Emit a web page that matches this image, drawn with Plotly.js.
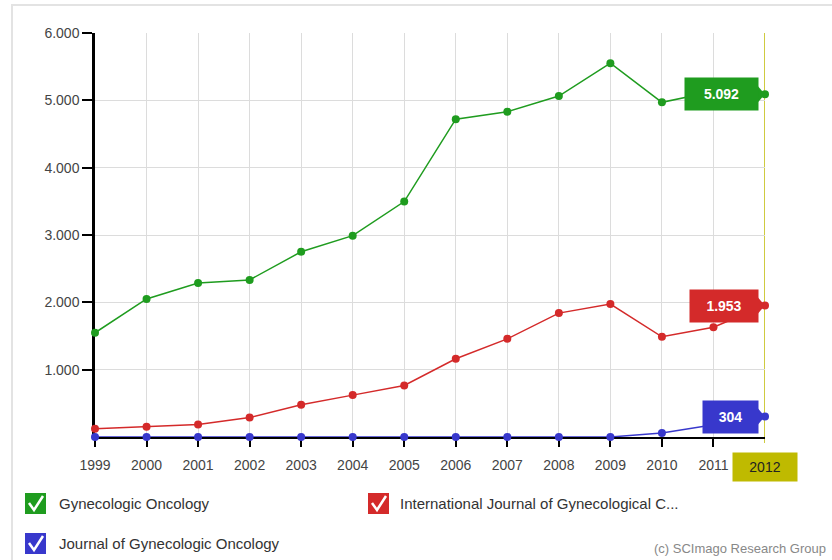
<!DOCTYPE html>
<html>
<head>
<meta charset="utf-8">
<script src="https://cdn.plot.ly/plotly-3.0.1.min.js"></script>
<style>
  html, body { margin: 0; padding: 0; background: #fff; }
  #chart { width: 832px; height: 560px; }
</style>
</head>
<body>
<div id="chart"></div>
<script>
// ---- data ----
const years = [1999, 2000, 2001, 2002, 2003, 2004, 2005, 2006, 2007, 2008, 2009, 2010, 2011, 2012];
const gynecologicOncology = [1548, 2050, 2288, 2333, 2751, 2990, 3497, 4720, 4830, 5064, 5552, 4970, 5130, 5092];
const intJournalGynCancer = [124, 154, 184, 288, 478, 622, 766, 1162, 1458, 1840, 1975, 1488, 1630, 1953];
const journalGynOncology = [0, 0, 0, 0, 0, 0, 0, 0, 0, 0, 0, 60, 180, 304];
const seriesNames = ["Gynecologic Oncology", "International Journal of Gynecological C...", "Journal of Gynecologic Oncology"];
const yTickVals = [1000, 2000, 3000, 4000, 5000, 6000];
const highlightYear = 2012;
const creditText = "(c) SCImago Research Group";

// ---- styling ----
const colors = ["#1f9c1f", "#d42a2a", "#3838cc"];
const olive = "#bfba00";
const FONT = "Liberation Sans, Arial, sans-serif";

const L = 95, R = 67, T = 33, B = 123, W = 832, H = 560;
const PW = W - L - R, PH = H - T - B;
const px = v => (v - L) / PW;       // pixel -> paper x
const py = v => (H - B - v) / PH;   // pixel -> paper y

function fmt(v) { return String(v).replace(/\B(?=(\d{3})+(?!\d))/g, "."); }

const seriesData = [gynecologicOncology, intJournalGynCancer, journalGynOncology];

const traces = seriesData.map((ys, i) => ({
  x: years, y: ys, type: "scatter", mode: "lines+markers",
  name: seriesNames[i],
  line: { color: colors[i], width: 1.5 },
  marker: { color: colors[i], size: 8 },
  cliponaxis: false,
  showlegend: false,
  hoverinfo: "x+y"
}));

const shapes = [];
const annotations = [];

// outer frame lines
shapes.push({ type: "line", xref: "paper", yref: "paper", x0: px(11), x1: px(832), y0: py(5), y1: py(5), line: { color: "#e3e3e3", width: 2 }, layer: "below" });
shapes.push({ type: "line", xref: "paper", yref: "paper", x0: px(12), x1: px(12), y0: py(5), y1: py(560), line: { color: "#e3e3e3", width: 2 }, layer: "below" });

// highlight line at last year
shapes.push({ type: "line", xref: "x", yref: "paper", x0: highlightYear, x1: highlightYear, y0: py(443), y1: 1, line: { color: olive, width: 1.5 }, layer: "below" });
// pointer triangle under axis
shapes.push({ type: "path", xref: "x", yref: "y", xsizemode: "pixel", ysizemode: "pixel", xanchor: highlightYear, yanchor: 0,
  path: "M-11,-16 L0,-5 L11,-16 Z", fillcolor: olive, line: { width: 0 } });
annotations.push({ xref: "x", yref: "paper", x: highlightYear, y: 0, yanchor: "top", yshift: -15, xanchor: "center",
  text: String(highlightYear), showarrow: false, bgcolor: olive, width: 64, height: 28, borderpad: 0,
  font: { family: FONT, size: 14, color: "#222" } });

// value labels at last year
const labelWidths = [73, 68, 55];
seriesData.forEach((ys, i) => {
  const v = ys[ys.length - 1];
  annotations.push({ xref: "x", yref: "y", x: highlightYear, y: v, xanchor: "right", yanchor: "middle", xshift: -6,
    text: "<b>" + fmt(v) + "</b>", showarrow: false, bgcolor: colors[i], width: labelWidths[i], height: 32, borderpad: 0,
    font: { family: FONT, size: 14, color: "#fff" } });
  shapes.push({ type: "path", xref: "x", yref: "y", xsizemode: "pixel", ysizemode: "pixel", xanchor: highlightYear, yanchor: v,
    path: "M-7,8 L-1,1 L-1,-1 L-7,-8 Z", fillcolor: colors[i], line: { width: 0 } });
});

// custom checkbox legend
const legendPos = [[25, 493, 57], [368, 493, 398], [25, 533, 57]];
legendPos.forEach((p, i) => {
  const [bx, by, tx] = p;
  shapes.push({ type: "rect", xref: "paper", yref: "paper", x0: px(bx), x1: px(bx + 21), y0: py(by + 21), y1: py(by), fillcolor: colors[i], line: { width: 0 } });
  shapes.push({ type: "path", xref: "paper", yref: "paper",
    path: `M${px(bx + 4)},${py(by + 10)} L${px(bx + 9)},${py(by + 17)} L${px(bx + 18)},${py(by + 3)}`,
    line: { color: "#fff", width: 2.5 } });
  annotations.push({ xref: "paper", yref: "paper", x: px(tx), y: py(by + 10.5), xanchor: "left", yanchor: "middle",
    text: seriesNames[i], showarrow: false, font: { family: FONT, size: 15, color: "#333" } });
});

annotations.push({ xref: "paper", yref: "paper", x: px(652), y: py(548), xanchor: "left", yanchor: "middle",
  text: creditText, showarrow: false, font: { family: FONT, size: 13, color: "#888" } });

const layout = {
  width: W, height: H,
  margin: { l: L, r: R, t: T, b: B, pad: 0 },
  paper_bgcolor: "#fff", plot_bgcolor: "#fff",
  separators: ",.",
  font: { family: FONT, size: 14, color: "#444" },
  xaxis: {
    range: [years[0], highlightYear], tickvals: years.slice(0, -1), ticktext: years.slice(0, -1).map(String),
    showgrid: true, gridcolor: "#dcdcdc", gridwidth: 1, zeroline: false,
    showline: true, linecolor: "#000", linewidth: 2, ticks: "outside", ticklen: 8, tickwidth: 1.5, tickcolor: "#000",
    ticklabelstandoff: 6,
    tickfont: { family: FONT, size: 14, color: "#444" }, layer: "below traces", fixedrange: true
  },
  yaxis: {
    range: [0, 6000], tickvals: yTickVals, tickformat: ",d",
    showgrid: true, gridcolor: "#dcdcdc", gridwidth: 1, zeroline: false,
    showline: true, linecolor: "#000", linewidth: 2.5, ticks: "outside", ticklen: 10, tickwidth: 1.5, tickcolor: "#000",
    tickfont: { family: FONT, size: 14, color: "#444" }, layer: "below traces", fixedrange: true
  },
  shapes: shapes,
  annotations: annotations,
  showlegend: false
};

Plotly.newPlot("chart", traces, layout, { displayModeBar: false, staticPlot: false });
</script>
</body>
</html>
